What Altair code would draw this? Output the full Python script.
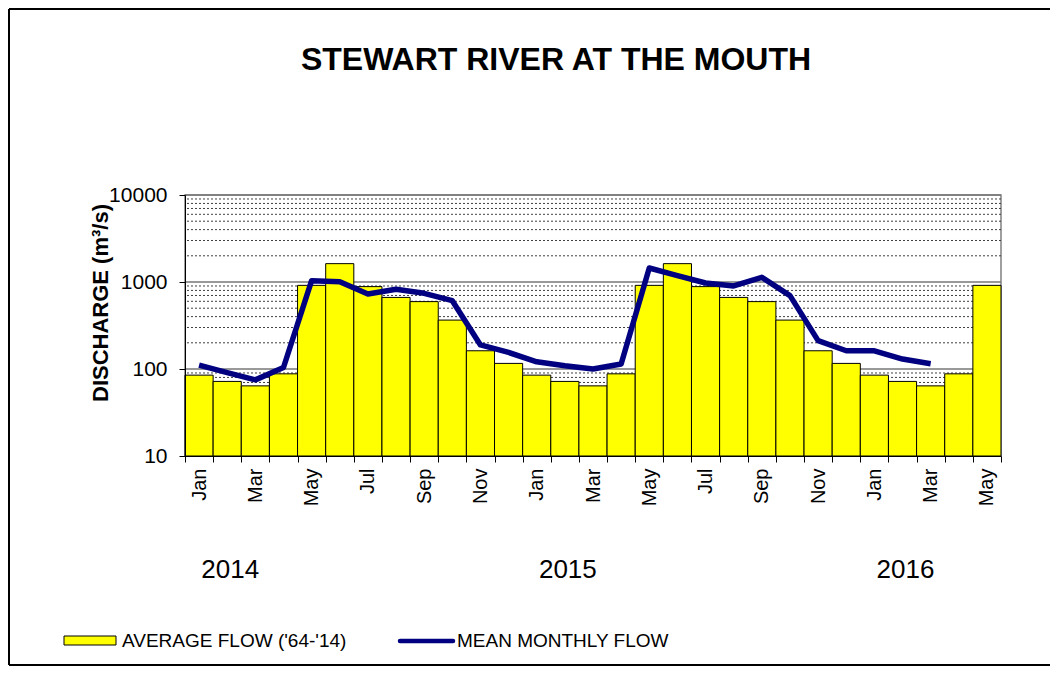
import json
import altair as alt
import pandas as pd

FONT = "Liberation Sans"

# ---------------- data ----------------
month_names = ["Jan", "Feb", "Mar", "Apr", "May", "Jun",
               "Jul", "Aug", "Sep", "Oct", "Nov", "Dec"]
years_in_chart = [2014, 2015, 2016]
months_per_year = [12, 12, 5]

keys = []
key_month = []
for yr, n in zip(years_in_chart, months_per_year):
    for m in range(n):
        keys.append(f"{yr}-{m + 1:02d}")
        key_month.append(month_names[m])

# long-term average flow ('64-'14), m3/s
average_flow = [85, 72, 64, 88, 915, 1625, 885, 665, 595, 365, 162, 116,
                85, 72, 64, 88, 915, 1625, 885, 665, 595, 365, 162, 116,
                85, 72, 64, 88, 915]

# mean monthly flow, Jan 2014 .. Mar 2016
mean_monthly_flow = [111, 91, 75, 104, 1036, 1009, 728, 824, 741, 610, 189, 155,
                     121, 109, 100, 114, 1449, 1183, 974, 900, 1132, 697, 212, 162,
                     162, 130, 115]

year_labels = ["2014", "2015", "2016"]
year_anchor = ["2014-02", "2015-02", "2016-02"]

y_ticks = [10, 100, 1000, 10000]
major_grid = [100, 1000, 10000]
minor_grid = [20, 30, 40, 50, 60, 70, 80, 90,
              200, 300, 400, 500, 600, 700, 800, 900,
              2000, 3000, 4000, 5000, 6000, 7000, 8000, 9000]

chart_title = "STEWART RIVER AT THE MOUTH"
y_title = "DISCHARGE (m³/s)"
series_names = ["AVERAGE FLOW ('64-'14)", "MEAN MONTHLY FLOW"]

# ---------------- tables ----------------
bars_df = pd.DataFrame({"key": keys, "value": average_flow})
line_df = pd.DataFrame({"key": keys[:len(mean_monthly_flow)], "value": mean_monthly_flow})
years_df = pd.DataFrame({"key": year_anchor, "label": year_labels})
major_df = pd.DataFrame({"value": major_grid})
minor_df = pd.DataFrame({"value": minor_grid})
one = pd.DataFrame({"a": [0]})

label_map = {k: (mn if i % 2 == 0 else "") for i, (k, mn) in
             enumerate(zip(keys, key_month))}
label_expr = "(" + json.dumps(label_map) + ")[datum.value] || ''"

W, H = 816, 261

x_scale = alt.Scale(type="band", domain=keys, paddingInner=0, paddingOuter=0)
y_scale = alt.Scale(type="log", domain=[10, 10000], nice=False)

x_axis = alt.Axis(title=None, labelAngle=270, labelAlign="right", labelBaseline="middle",
                  labelFont=FONT, labelFontSize=20, labelColor="black", labelPadding=6,
                  labelExpr=label_expr, labelOverlap=False, tickSize=6, tickColor="black",
                  tickBand="extent", domainColor="black", grid=False, zindex=2)
y_axis = alt.Axis(values=y_ticks, format="d", title=y_title, titleFont=FONT,
                  titleFontSize=22, titleFontWeight="bold", titleColor="black",
                  titleAngle=270, titleX=-85, titleY=107.5, titleBaseline="middle",
                  titleAlign="center", labelFont=FONT, labelFontSize=21,
                  labelFontWeight="normal", labelColor="black", labelPadding=12,
                  tickSize=6, tickColor="black", domainColor="black", grid=False,
                  labelOverlap=False, zindex=2)

minor = alt.Chart(minor_df).mark_rule(stroke="#404040", strokeWidth=1, strokeDash=[2, 2]).encode(
    y=alt.Y("value:Q", scale=y_scale, axis=y_axis))
major = alt.Chart(major_df).mark_rule(stroke="#777777", strokeWidth=1.5).encode(
    y=alt.Y("value:Q", scale=y_scale))

bars = alt.Chart(bars_df).mark_bar(fill="#FFFF00", stroke="black", strokeWidth=1).encode(
    x=alt.X("key:N", scale=x_scale, axis=x_axis, sort=keys),
    y=alt.Y("value:Q", scale=y_scale),
    y2=alt.datum(10),
)

line = alt.Chart(line_df).mark_line(stroke="#000080", strokeWidth=5.5, strokeJoin="round").encode(
    x=alt.X("key:N", scale=x_scale, sort=keys),
    y=alt.Y("value:Q", scale=y_scale),
)

years = alt.Chart(years_df).mark_text(font=FONT, fontSize=26, color="black",
                                      align="center", baseline="alphabetic", dx=3).encode(
    x=alt.X("key:N", scale=x_scale, sort=keys),
    y=alt.value(383),
    text="label:N",
)

title = alt.Chart(one).mark_text(text=chart_title, font=FONT, fontSize=32, fontWeight="bold",
                                 color="black", align="center", baseline="alphabetic").encode(
    x=alt.value(371), y=alt.value(-125))

# frame
frame_top = alt.Chart(one).mark_rule(stroke="black", strokeWidth=2).encode(
    x=alt.value(-176), x2=alt.value(866), y=alt.value(-186))
frame_left = alt.Chart(one).mark_rule(stroke="black", strokeWidth=2).encode(
    x=alt.value(-176), y=alt.value(-186), y2=alt.value(470))
frame_bottom = alt.Chart(one).mark_rule(stroke="black", strokeWidth=2).encode(
    x=alt.value(-176), x2=alt.value(866), y=alt.value(470))

# legend
leg_box = alt.Chart(one).mark_rect(fill="#FFFF00", stroke="black", strokeWidth=1).encode(
    x=alt.value(-121), x2=alt.value(-69), y=alt.value(441), y2=alt.value(450))
leg_text1 = alt.Chart(one).mark_text(text=series_names[0], font=FONT, fontSize=19,
                                     color="black", align="left", baseline="middle").encode(
    x=alt.value(-63), y=alt.value(446))
leg_line = alt.Chart(one).mark_rule(stroke="#000080", strokeWidth=4.5, strokeCap="round").encode(
    x=alt.value(215), x2=alt.value(268), y=alt.value(446))
leg_text2 = alt.Chart(one).mark_text(text=series_names[1], font=FONT, fontSize=19,
                                     color="black", align="left", baseline="middle").encode(
    x=alt.value(272), y=alt.value(446))

chart = alt.layer(
    minor, major, bars, line, years, title,
    frame_top, frame_left, frame_bottom,
    leg_box, leg_text1, leg_line, leg_text2,
).properties(
    width=W, height=H,
    autosize=alt.AutoSizeParams(type="none"),
    padding={"left": 177, "top": 187, "right": 49, "bottom": 210},
    background="white",
).configure_view(stroke="#808080", strokeWidth=1.5)

chart.save("out.html", embed_options={"renderer": "svg", "actions": False})
